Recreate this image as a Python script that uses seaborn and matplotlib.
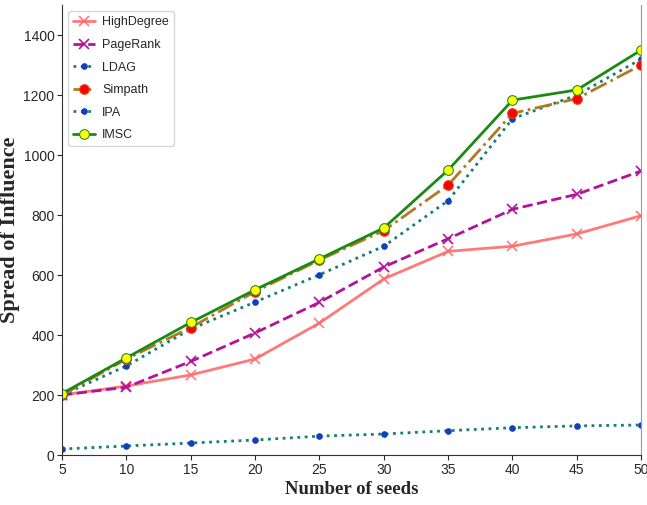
import matplotlib
matplotlib.use("Agg")
import matplotlib.pyplot as plt
import seaborn as sns
import pandas as pd

seeds = [5, 10, 15, 20, 25, 30, 35, 40, 45, 50]
high_degree = [200, 230, 267, 320, 440, 587, 679, 696, 737, 798]
page_rank = [200, 226, 312, 407, 509, 627, 721, 819, 869, 947]
ldag = [200, 297, 420, 510, 601, 696, 848, 1121, 1200, 1320]
simpath = [200, 320, 425, 545, 650, 748, 900, 1139, 1188, 1300]
ipa = [20, 30, 40, 50, 63, 70, 81, 91, 97, 100]
imsc = [205, 324, 442, 551, 654, 757, 950, 1183, 1217, 1350]

sns.set_style("ticks")
plt.rcParams['font.family'] = ['Liberation Sans', 'DejaVu Sans']

fig, ax = plt.subplots(figsize=(6.47, 5.05), dpi=100)
fig.subplots_adjust(left=0.096, right=0.991, top=0.99, bottom=0.099)

series = [
    ("HighDegree", high_degree, dict(color="#ff6b6b", linestyle="-", marker="x", markersize=7,
                                     markeredgecolor="#ff6b6b", markeredgewidth=1.2,
                                     linewidth=2, alpha=0.9)),
    ("PageRank", page_rank, dict(color="#b5129b", linestyle="--", marker="x", markersize=7,
                                 markeredgecolor="#b5129b", markeredgewidth=1.2, linewidth=2)),
    ("LDAG", ldag, dict(color="#137f72", linestyle=":", marker="o", markersize=4,
                        markerfacecolor="#1040c0", markeredgecolor="#1040c0", linewidth=2)),
    ("Simpath", simpath, dict(color="#b07a22", linestyle="-.", marker="o", markersize=7,
                              markerfacecolor="red", markeredgecolor="#d85020", linewidth=2)),
    ("IPA", ipa, dict(color="#137f72", linestyle=":", marker="o", markersize=4,
                      markerfacecolor="#1040c0", markeredgecolor="#1040c0", linewidth=2)),
    ("IMSC", imsc, dict(color="#1a8a12", linestyle="-", marker="o", markersize=7,
                        markerfacecolor="yellow", markeredgecolor="#1a8a12", linewidth=2)),
]

for name, vals, kw in series:
    df = pd.DataFrame({"seeds": seeds, "value": vals})
    sns.lineplot(data=df, x="seeds", y="value", ax=ax, label=name, **kw)

ax.set_xlim(5, 50)
ax.set_ylim(0, 1500)
ax.set_xticks(seeds)
ax.set_yticks(range(0, 1401, 200))
ax.tick_params(labelsize=10, pad=2)
for s in ax.spines.values():
    s.set_color("#333333")
ax.spines["right"].set_color("#999999")
ax.spines["top"].set_visible(False)

ax.set_xlabel("Number of seeds", fontfamily="Liberation Serif", fontweight="bold", fontsize=13.5)
ax.set_ylabel("Spread of Influence", fontfamily="Liberation Serif", fontweight="bold", fontsize=16)
ax.yaxis.set_label_coords(-0.073, 0.5)
ax.xaxis.set_label_coords(0.5, -0.058)

ax.legend(loc="upper left", fontsize=9, frameon=True, handlelength=1.7,
          handletextpad=0.6, labelspacing=0.85, borderaxespad=0.5)

plt.savefig("out.png", dpi=100)
